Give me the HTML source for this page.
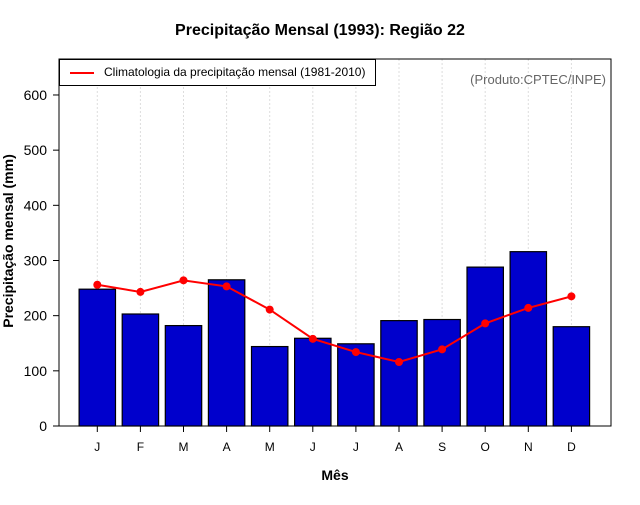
<!DOCTYPE html>
<html><head><meta charset="utf-8"><style>
body{margin:0;background:#fff;font-family:"Liberation Sans",sans-serif}
</style></head><body>
<svg id="c" width="640" height="500" xmlns="http://www.w3.org/2000/svg" font-family="Liberation Sans, sans-serif"></svg>
<script>
const months=["J","F","M","A","M","J","J","A","S","O","N","D"];
const precip=[248,203,182,265,144,159,149,191,193,288,316,180];
const clim=[256,243,264,253,211,158,134,116,139,186,214,235];
const yTicks=[0,100,200,300,400,500,600];
const NS="http://www.w3.org/2000/svg";
const svg=document.getElementById('c');
const L=59,R=611,T=59,B=426;
const y=v=>B-v*0.5517;
const x=i=>97.3+i*43.1;
function el(t,a,p){const e=document.createElementNS(NS,t);for(const k in a)e.setAttribute(k,a[k]);(p||svg).appendChild(e);return e;}
// grid
months.forEach((m,i)=>{const g=el('line',{x1:x(i),x2:x(i),y1:T,y2:B,stroke:'#ddd','stroke-dasharray':'2,2'});

});
// bars
precip.forEach((v,i)=>{const r=el('rect',{x:x(i)-18.2,y:y(v),width:36.4,height:B-y(v),fill:'#0000cc',stroke:'#000','stroke-width':1.2});

});
// line
const pl=el('polyline',{points:clim.map((v,i)=>x(i)+','+y(v)).join(' '),fill:'none',stroke:'#ff0000','stroke-width':2});


clim.forEach((v,i)=>{const c=el('circle',{cx:x(i),cy:y(v),r:4,fill:'#ff0000'});

});
// frame
const f=el('rect',{x:L,y:T,width:R-L,height:B-T,fill:'none',stroke:'#000','stroke-width':1});


// y ticks
yTicks.forEach(v=>{el('line',{x1:L-6,x2:L,y1:y(v),y2:y(v),stroke:'#000'});
const t=el('text',{x:L-12,y:y(v)+5,'text-anchor':'end','font-size':14});t.textContent=v;

});
months.forEach((m,i)=>{el('line',{x1:x(i),x2:x(i),y1:B,y2:B+6,stroke:'#000'});
const t=el('text',{x:x(i),y:B+25,'text-anchor':'middle','font-size':12});t.textContent=m;

});
</script>
<div style="position:absolute;left:0;top:0;width:640px;height:500px;pointer-events:none">
<div style="position:absolute;top:22px;left:0;width:640px;text-align:center;font-weight:bold;font-size:16px">Precipitação Mensal (1993): Região 22</div>
<div style="position:absolute;top:467px;left:300px;width:70px;text-align:center;font-weight:bold;font-size:14px">Mês</div>
<div style="position:absolute;left:-92px;top:233px;width:200px;text-align:center;font-weight:bold;font-size:14px;transform:rotate(-90deg)">Precipitação mensal (mm)</div>
<div style="position:absolute;left:59px;top:59px;width:317px;height:27px;border:1px solid #000;box-sizing:border-box;background:#fff">
<div style="position:absolute;left:10px;top:12px;width:24px;height:2px;background:#f00"></div>
<div style="position:absolute;left:44px;top:5px;font-size:12px">Climatologia da precipitação mensal (1981-2010)</div></div>
<div style="position:absolute;right:34px;top:72px;font-size:13px;color:#666">(Produto:CPTEC/INPE)</div>
</div>
</body></html>
